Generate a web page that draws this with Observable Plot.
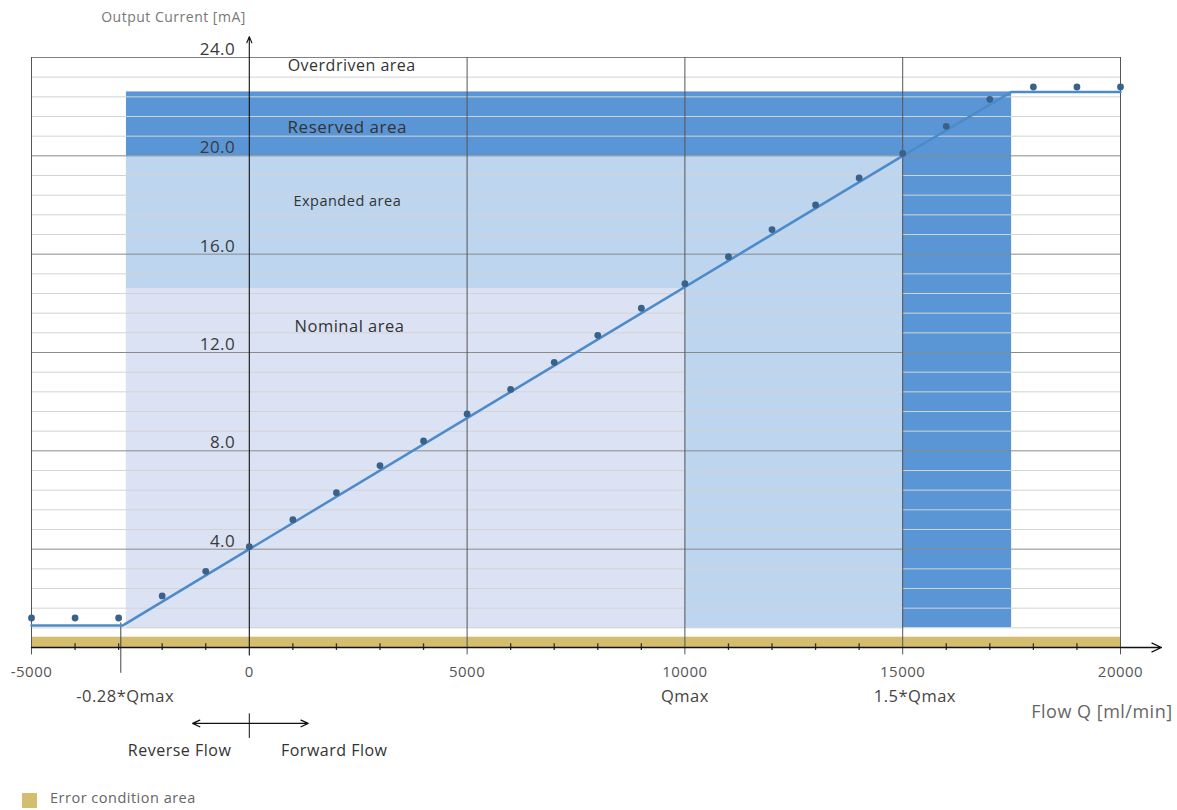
<!DOCTYPE html>
<html><head><meta charset="utf-8">
<script src="https://cdn.jsdelivr.net/npm/d3@7"></script>
<script src="https://cdn.jsdelivr.net/npm/@observablehq/plot@0.6"></script>
<style>
body{margin:0;background:#fff;font-family:"Open Sans",sans-serif;}
#chart svg{display:block;}
#chart svg text{letter-spacing:0.5px;}
#legend{position:relative;height:25px;width:1177px;}
#legend .sw{position:absolute;left:22px;top:8px;width:15px;height:15px;background:#d4bd6f;}
#legend .lb{position:absolute;left:50px;top:4px;font-size:14.5px;letter-spacing:0.5px;color:#666;line-height:18px;}
</style></head>
<body>
<div id="chart"></div>
<div id="legend"><span class="sw"></span><span class="lb">Error condition area</span></div>
<script>
// Transfer curve (flow in ml/min, current in mA)
const curveFlow = [-5000, -2900, 0, 15000, 17500, 20000];
const curveCurrent = [0.9, 0.9, 4.0, 20.0, 22.6, 22.6];
// Markers
const markerFlow = [-5000,-4000,-3000,-2000,-1000,0,1000,2000,3000,4000,5000,6000,7000,8000,9000,10000,11000,12000,13000,14000,15000,16000,17000,18000,19000,20000];
const markerCurrent = [1.2,1.2,1.2,2.1,3.1,4.1,5.2,6.3,7.4,8.4,9.5,10.5,11.6,12.7,13.8,14.8,15.9,17.0,18.0,19.1,20.1,21.2,22.3,22.8,22.8,22.8];
// Areas
const areaNames = ["Reserved area", "Expanded area", "Nominal area"];
const areaFlowStart = [-2820, -2820, -2820];
const areaFlowEnd = [17500, 15000, 10000];
const areaCurrentLow = [0.8, 0.8, 0.8];
const areaCurrentHigh = [22.6, 20.0, 14.6];
const areaLabelNames = ["Overdriven area", "Reserved area", "Expanded area", "Nominal area"];
const areaLabelFlow = [2350, 2250, 2250, 2300];
const areaLabelCurrent = [23.65, 21.15, 18.15, 13.05];
// Error condition band
const errorFlow = [-5000, 20000];
const errorCurrent = [0.0, 0.42];
// Ticks
const majorY = [4, 8, 12, 16, 20];
const minorY = [0.8,1.6,2.4,3.2,4.8,5.6,6.4,7.2,8.8,9.6,10.4,11.2,12.8,13.6,14.4,15.2,16.8,17.6,18.4,19.2,20.8,21.6,22.4,23.2];
const yLabelValues = [4, 8, 12, 16, 20, 24];
const yLabelTexts = ["4.0", "8.0", "12.0", "16.0", "20.0", "24.0"];
const xTicks = [-5000, 0, 5000, 10000, 15000, 20000];
const xMinorTicks = [-4000,-3000,-2000,-1000,1000,2000,3000,4000,6000,7000,8000,9000,11000,12000,13000,14000,16000,17000,18000,19000];
const verticalLines = [-5000, 5000, 10000, 15000, 20000];
const qLabels = ["-0.28*Qmax", "Qmax", "1.5*Qmax"];
const qLabelFlow = [-2850, 10000, 15280];
const directionLabels = ["Reverse Flow", "Forward Flow"];
const directionFlow = [-1600, 1950];

const W = 1177, H = 785;
// pixel calibration: x -5000 -> 31, 20000 -> 1120 ; y 0 -> 647, 24 -> 57
const kx = (1120 - 31) / 25000, ky = (647 - 57) / 24;
const xDomain = [-5000 - 31 / kx, 20000 + (W - 1120) / kx];
const yDomain = [-(H - 647) / ky, 647 / ky];

const curve = curveFlow.map((f, i) => ({f, c: curveCurrent[i]}));
const markers = markerFlow.map((f, i) => ({f, c: markerCurrent[i]}));
const areas = areaNames.map((n, i) => ({n, x1: areaFlowStart[i], x2: areaFlowEnd[i], y1: areaCurrentLow[i], y2: areaCurrentHigh[i]}));
const areaLabels = areaLabelNames.map((n, i) => ({n, f: areaLabelFlow[i], c: areaLabelCurrent[i]}));
const yLabels = yLabelValues.map((v, i) => ({v, t: yLabelTexts[i]}));
const qLab = qLabels.map((t, i) => ({t, f: qLabelFlow[i]}));
const dirLab = directionLabels.map((t, i) => ({t, f: directionFlow[i]}));
const areaLabelSize = {"Overdriven area": 16, "Reserved area": 17, "Expanded area": 14.5, "Nominal area": 16.5};

const chart = Plot.plot({
  width: W, height: H,
  margin: 0,
  x: {domain: xDomain, axis: null},
  y: {domain: yDomain, axis: null},
  color: {domain: areaNames, range: ["#5a96d6", "#bdd5ee", "#dbe2f4"]},
  style: {fontFamily: "Open Sans", background: "#fff"},
  marks: [
    Plot.rect(areas, {x1: "x1", x2: "x2", y1: "y1", y2: "y2", fill: "n"}),
    Plot.rect([0], {x1: errorFlow[0], x2: errorFlow[1], y1: errorCurrent[0], y2: errorCurrent[1], fill: "#d4bd6f"}),
    Plot.ruleY(minorY, {x1: -5000, x2: 20000, stroke: "#d3d3d3", strokeWidth: 1}),
    Plot.ruleY(majorY, {x1: -5000, x2: 20000, stroke: "#8a8a8a", strokeWidth: 1}),
    Plot.ruleY([24], {x1: -5000, x2: 20000, stroke: "#808080", strokeWidth: 1}),
    Plot.ruleX(verticalLines, {y1: -0.3, y2: 24, stroke: "#555", strokeWidth: 1}),
    Plot.ruleX([-2950], {y1: 1.0, y2: -1.05, stroke: "#444", strokeWidth: 1}),
    Plot.ruleX(xMinorTicks, {y1: -0.12, y2: 0.15, stroke: "#333", strokeWidth: 1.3}),
    Plot.arrow([0], {x1: -5000, x2: 20940, y1: 0, y2: 0, stroke: "#111", strokeWidth: 1.3, headLength: 12, headAngle: 50}),
    Plot.arrow([0], {x1: 0, x2: 0, y1: -0.3, y2: 24.85, stroke: "#111", strokeWidth: 1.1, headLength: 9, headAngle: 45}),
    Plot.line(curve, {x: "f", y: "c", stroke: "#4d8ac9", strokeWidth: 2.5}),
    Plot.dot(markers, {x: "f", y: "c", r: 3.4, fill: "#3a6189"}),
    Plot.text(yLabels, {x: 0, y: "v", text: "t", dx: -14, dy: -8, textAnchor: "end", fontSize: 17, fill: "#3a3a3a"}),
    ...areaLabels.map(d => Plot.text([d], {x: "f", y: "c", text: "n", fontSize: areaLabelSize[d.n], fill: "#333"})),
    Plot.text(xTicks, {x: d => d, y: 0, text: d => String(d), dy: 25, fontSize: 15, fill: "#555"}),
    Plot.text(qLab, {x: "f", y: 0, text: "t", dy: 49, fontSize: 16.5, fill: "#444"}),
    Plot.text(["Flow Q [ml/min]"], {x: 17952, y: 0, text: d => d, dy: 65, textAnchor: "start", fontSize: 18, fill: "#666"}),
    Plot.text(["Output Current [mA]"], {x: -3400, y: 24, text: d => d, dy: -40, textAnchor: "start", fontSize: 14, fill: "#777"}),
    Plot.arrow([0], {x1: 0, x2: -1300, y1: -3.09, y2: -3.09, stroke: "#111", strokeWidth: 1.3, headLength: 9, headAngle: 50}),
    Plot.arrow([0], {x1: 0, x2: 1350, y1: -3.09, y2: -3.09, stroke: "#111", strokeWidth: 1.3, headLength: 9, headAngle: 50}),
    Plot.ruleX([0], {y1: -2.7, y2: -3.7, stroke: "#111", strokeWidth: 1}),
    Plot.text(dirLab, {x: "f", y: -3.09, text: "t", dy: 27, fontSize: 16, fill: "#333"})
  ]
});
document.getElementById("chart").appendChild(chart);
</script>
</body></html>
